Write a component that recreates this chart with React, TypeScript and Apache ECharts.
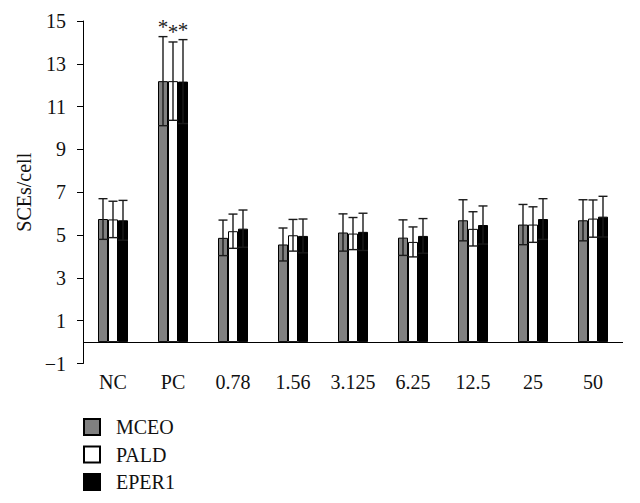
import React, { useEffect, useRef } from "react";
import * as echarts from "echarts";

const categories = ["NC", "PC", "0.78", "1.56", "3.125", "6.25", "12.5", "25", "50"];
const seriesNames = ["MCEO", "PALD", "EPER1"];
const mceoMean = [5.75, 12.19, 4.87, 4.56, 5.12, 4.88, 5.69, 5.49, 5.69];
const mceoSD = [0.95, 2.08, 0.83, 0.77, 0.87, 0.83, 0.96, 0.94, 0.96];
const paldMean = [5.73, 12.19, 5.18, 4.99, 5.07, 4.68, 5.29, 5.49, 5.77];
const paldSD = [0.85, 1.83, 0.8, 0.74, 0.75, 0.7, 0.8, 0.83, 0.87];
const eper1Mean = [5.69, 12.17, 5.3, 4.96, 5.15, 4.96, 5.47, 5.75, 5.86];
const eper1SD = [0.93, 1.96, 0.87, 0.79, 0.87, 0.81, 0.89, 0.95, 0.95];
const mceoStars = ["", "*", "", "", "", "", "", "", ""];
const paldStars = ["", "*", "", "", "", "", "", "", ""];
const eper1Stars = ["", "*", "", "", "", "", "", "", ""];
const yTicks = { min: -1, max: 15, interval: 2 };

const FONT = "'Liberation Serif', 'DejaVu Serif', serif";
const BAR_W = 10;
const colors = ["#808080", "#ffffff", "#000000"];

export default function App() {
  const ref = useRef<HTMLDivElement>(null);
  useEffect(() => {
    if (!ref.current) return;
    const chart = echarts.init(ref.current, null, { renderer: "svg" });
    const means = [mceoMean, paldMean, eper1Mean];
    const sds = [mceoSD, paldSD, eper1SD];
    const stars = [mceoStars, paldStars, eper1Stars];

    const barSeries: any[] = seriesNames.map((name, s) => ({
      name,
      type: "bar",
      data: means[s],
      barWidth: BAR_W,
      barGap: "0%",
      itemStyle: { color: colors[s], borderColor: "#000", borderWidth: 1 },
      z: 2,
      ...(s === 0
        ? {
            markLine: {
              silent: true,
              symbol: "none",
              label: { show: false },
              lineStyle: { color: "#000", width: 1, type: "solid" },
              data: [{ yAxis: 0 }],
            },
          }
        : {}),
    }));

    const errSeries: any[] = seriesNames.map((name, s) => ({
      name: name + "-err",
      type: "custom",
      z: 5,
      silent: true,
      data: categories.map((_, i) => [i, means[s][i], sds[s][i]]),
      encode: { x: 0, y: 1 },
      renderItem: (params: any, api: any) => {
        const ci = api.value(0);
        const v = api.value(1);
        const sd = api.value(2);
        const c = api.coord([ci, v]);
        const top = api.coord([ci, v + sd]);
        const bot = api.coord([ci, v - sd]);
        const x = c[0] + (s - 1) * BAR_W;
        const st = { stroke: "#1a1a1a", lineWidth: 1.4 };
        const children: any[] = [
          { type: "line", shape: { x1: x, y1: top[1], x2: x, y2: bot[1] }, style: st },
          { type: "line", shape: { x1: x - 4.5, y1: top[1], x2: x + 4.5, y2: top[1] }, style: st },
          { type: "line", shape: { x1: x - BAR_W / 2, y1: bot[1], x2: x + BAR_W / 2, y2: bot[1] }, style: st },
        ];
        const star = stars[s][params.dataIndex];
        if (star) {
          children.push({
            type: "text",
            style: {
              text: star,
              x: x,
              y: top[1] + 1,
              align: "center",
              verticalAlign: "bottom",
              fill: "#222",
              font: `21px ${FONT}`,
            },
          });
        }
        return { type: "group", children };
      },
    }));

    const legends = seriesNames.map((n, i) => ({
      data: [n],
      orient: "vertical",
      left: 83,
      top: 417 + 27.5 * i,
      padding: 0,
      itemWidth: 16,
      itemHeight: 16,
      icon: "rect",
      textStyle: { fontFamily: FONT, fontSize: 20, color: "#111", padding: [0, 0, 0, 11] },
    }));

    chart.setOption({
      animation: false,
      grid: { left: 83, right: 17, top: 21, bottom: 139.5, containLabel: false },
      legend: legends,
      xAxis: {
        type: "category",
        data: categories,
        axisLine: { show: false, onZero: false },
        axisTick: { show: false },
        axisLabel: { fontFamily: FONT, fontSize: 20, color: "#111", margin: 8 },
      },
      yAxis: {
        type: "value",
        min: yTicks.min,
        max: yTicks.max,
        interval: yTicks.interval,
        name: "SCEs/cell",
        nameLocation: "middle",
        nameGap: 46,
        nameTextStyle: { fontFamily: FONT, fontSize: 20, color: "#111" },
        axisLine: { show: true, lineStyle: { color: "#000", width: 1 } },
        axisTick: { show: true, length: 6, lineStyle: { color: "#000" } },
        splitLine: { show: false },
        axisLabel: {
          fontFamily: FONT,
          fontSize: 20,
          color: "#111",
          margin: 17,
          formatter: (v: number) => (v < 0 ? "\u2212" + Math.abs(v) : String(v)),
        },
      },
      series: [...barSeries, ...errSeries],
    });
    return () => chart.dispose();
  }, []);
  return (
    <div
      ref={ref}
      style={{ position: "fixed", left: 0, top: 0, width: 640, height: 503, background: "#fff" }}
    />
  );
}
